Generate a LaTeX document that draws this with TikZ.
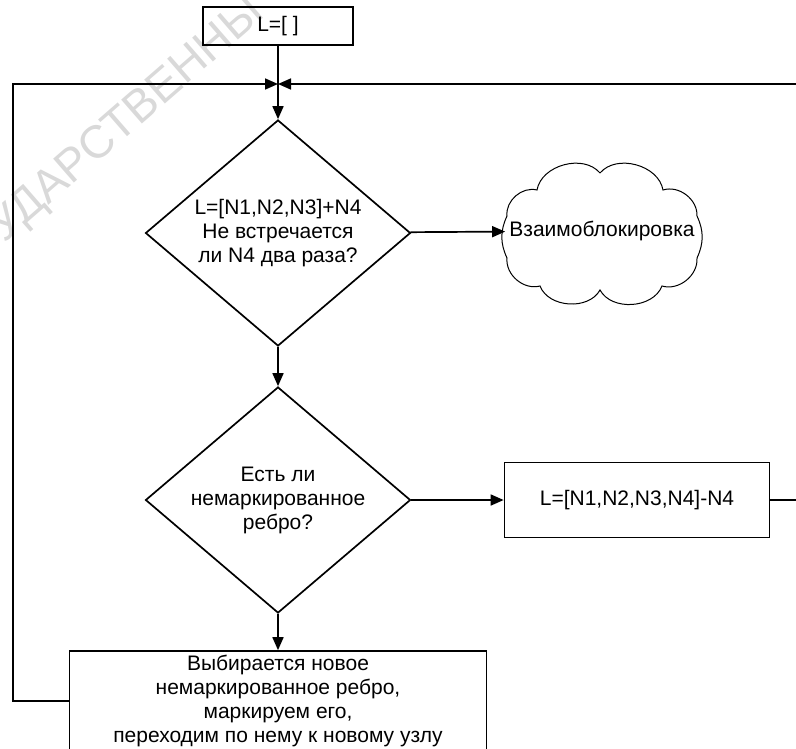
\documentclass[tikz,border=0pt]{standalone}
\usepackage{fontspec}
\setmainfont{Liberation Sans}
\usetikzlibrary{arrows.meta,shapes.geometric}

\begin{document}
\begin{tikzpicture}[x=1pt,y=-1pt,line width=1.7pt,
	flow/.style={-{Triangle[length=13pt,width=11pt]}},
	box/.style={draw,rectangle,inner sep=0pt,align=center},
	decision/.style={draw,diamond,aspect=1.17,inner sep=0pt,align=center,minimum width=265pt,minimum height=226pt}]
	\fontsize{21}{24}\selectfont
	\useasboundingbox (0,0) rectangle (796,748);
	\clip (0,0) rectangle (796,748);
	\node[rotate=41,text=gray!30,font=\fontsize{46}{46}\selectfont] (mark) at (128,121) {УДАРСТВЕННЫ};

	\node[box,minimum width=150pt,minimum height=38pt] (start) at (278,26) {L=[ ]};
	\coordinate (join) at (278,84);
	\coordinate (loop) at (13,84);
	\node[decision] (check) at (278,233) {L=[N1,N2,N3]+N4\\Не встречается\\ли N4 два раза?};
	\node[minimum width=192pt,minimum height=143pt,inner sep=0pt] (deadlock) at (602,231) {Взаимоблокировка};
	\node[decision] (edge) at (278,500) {Есть ли\\немаркированное\\ребро?};
	\node[box,minimum width=265pt,minimum height=75pt] (back) at (637,500) {L=[N1,N2,N3,N4]-N4};
	\node[box,minimum width=417pt,minimum height=100pt] (pick) at (278,701) {Выбирается новое\\немаркированное ребро,\\маркируем его,\\переходим по нему к новому узлу};

	% cloud
	\draw[line width=1pt] (600,173) to[bend left=65] (663,190) to[bend left=55] (697,216) to[bend left=25] (697,258) to[bend left=55] (662,286) to[bend left=65] (600,290) to[bend left=65] (540,286) to[bend left=55] (507,258) to[bend left=25] (507,216) to[bend left=55] (537,190) to[bend left=65] (600,173);

	\draw (start) -- (join);
	\draw[flow] (join) -- (check);
	\draw[flow] (pick.west) -| (loop) -- (join);
	\draw[flow] (back.east) -- ++(60,0) |- (join);
	\draw[flow] (check) -- (deadlock);
	\draw[flow] (check) -- (edge);
	\draw[flow] (edge) -- (back);
	\draw[flow] (edge) -- (pick);
\end{tikzpicture}
\end{document}
